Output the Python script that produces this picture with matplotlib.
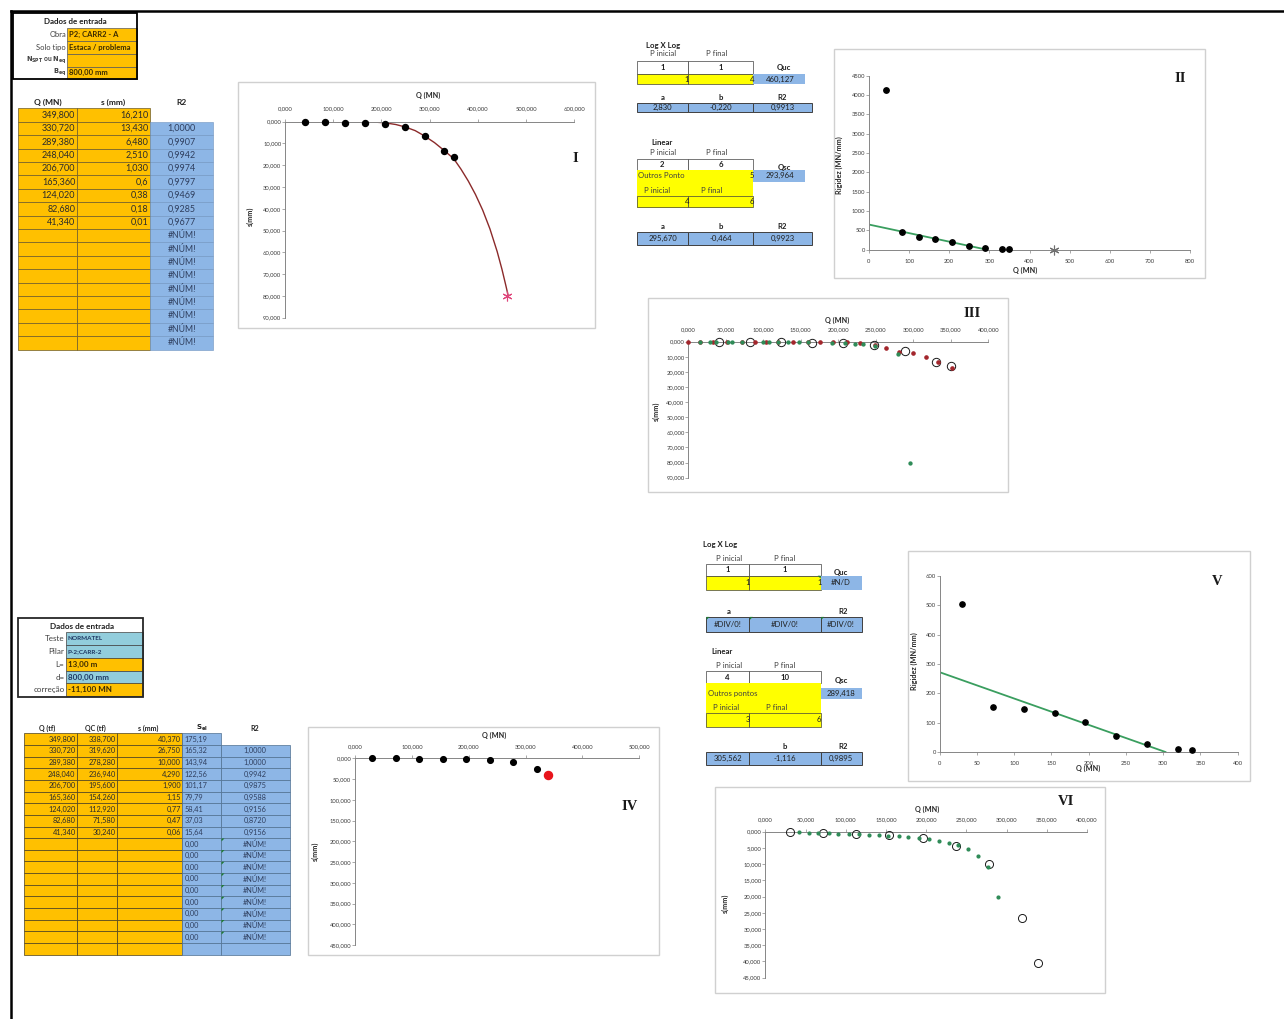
import matplotlib
matplotlib.use("Agg")
import matplotlib.pyplot as plt
from matplotlib.patches import Rectangle, Polygon
from matplotlib.ticker import FuncFormatter

W, H = 1284, 1019
plt.rcParams['font.family'] = ['Lato', 'DejaVu Sans']
plt.rcParams['mathtext.fontset'] = 'dejavusans'

ORANGE = '#FFC000'
YELLOW = '#FFFF00'
BLUE = '#8DB6E6'
TEAL = '#92CDDC'
AXC = '#868686'
TXT = '#1F1F1F'
NUM = '#2A2A2A'

# ---------------- dados: tabela 1 (P2; CARR2 - A) ----------------
q1 = [349.800, 330.720, 289.380, 248.040, 206.700, 165.360, 124.020, 82.680, 41.340]
s1 = [16.210, 13.430, 6.480, 2.510, 1.030, 0.6, 0.38, 0.18, 0.01]
s1_txt = ['16,210', '13,430', '6,480', '2,510', '1,030', '0,6', '0,38', '0,18', '0,01']
r2_1 = ['', '1,0000', '0,9907', '0,9942', '0,9974', '0,9797', '0,9469', '0,9285', '0,9677']
n_err1 = 9
rig1 = [21.6, 24.6, 44.7, 98.8, 200.7, 275.6, 326.4, 459.3, 4134.0]

# curva ajustada (gráfico I)
curve1_q = [15, 100, 180, 207, 230, 249, 270, 289, 310, 330, 350, 365, 380, 395,
            410, 425, 440, 450, 458, 463]
curve1_s = [0, 0, 0.1, 0.5, 1.3, 2.4, 4.1, 6.5, 9.6, 13.2, 17.0, 21.8, 27.2, 33.4,
            40.6, 49.2, 59.6, 67.8, 75.2, 80.0]
quc1 = 460.127
s_ult1 = 80.0

# reta de rigidez (gráfico II)
fit2_q = [0, 293.964]
fit2_r = [650, 0]

# gráfico III: pontos das duas extrapolações
red3_q = [0, 16, 33, 51, 71, 89, 104, 120, 140, 159, 176, 193, 211, 229, 249, 263,
          281, 299, 317, 333, 351]
red3_s = [0, 0, 0, 0, 0, 0, 0, 0, 0, 0, 0.1, 0.3, 0.5, 0.9, 2.4, 4.0, 6.6, 7.7,
          9.9, 13.2, 17.2]
green3_q = [15, 29, 37, 53, 58, 71, 100, 107, 120, 133, 147, 160, 191, 209, 222,
            233, 249, 280, 295]
green3_s = [0, 0, 0, 0, 0, 0, 0, 0, 0, 0, 0, 0, 0.6, 1.0, 1.6, 1.8, 2.6, 8.4, 80.0]

# ---------------- dados: tabela 2 (NORMATEL, P-2;CARR-2) ----------------
q2 = [349.800, 330.720, 289.380, 248.040, 206.700, 165.360, 124.020, 82.680, 41.340]
qc2 = [338.700, 319.620, 278.280, 236.940, 195.600, 154.260, 112.920, 71.580, 30.240]
s2 = [40.37, 26.75, 10.0, 4.29, 1.9, 1.15, 0.77, 0.47, 0.06]
s2_txt = ['40,370', '26,750', '10,000', '4,290', '1,900', '1,15', '0,77', '0,47', '0,06']
sel2 = ['175,19', '165,32', '143,94', '122,56', '101,17', '79,79', '58,41', '37,03', '15,64']
r2_2 = ['', '1,0000', '1,0000', '0,9942', '0,9875', '0,9588', '0,9156', '0,8720', '0,9156']
n_err2 = 9
rig2 = [8.4, 11.9, 27.8, 55.2, 102.9, 134.1, 146.6, 152.3, 504.0]

fit5_q = [0, 303]
fit5_r = [272, 0]

green6_q = [41.5, 54, 66, 79, 91, 104, 116, 128.5, 141, 153, 166, 178, 191, 203,
            215.5, 228, 240, 252, 264.5, 277, 289]
green6_s = [0.2, 0.3, 0.4, 0.5, 0.6, 0.7, 0.8, 0.9, 1.0, 1.3, 1.4, 1.6, 1.9, 2.4,
            2.9, 3.4, 4.1, 5.4, 7.4, 10.8, 20.2]


def br(v, nd=3):
    return f"{v:.{nd}f}".replace('.', ',')


fig = plt.figure(figsize=(W / 100, H / 100), dpi=100)
bg = fig.add_axes([0, 0, 1, 1])
bg.set_xlim(0, W)
bg.set_ylim(H, 0)
bg.axis('off')


def box(x0, y0, x1, y1, fc='none', ec='#595959', lw=0.5, z=1):
    p = Rectangle((x0, y0), x1 - x0, y1 - y0, facecolor=fc, edgecolor=ec,
                  linewidth=lw, zorder=z)
    bg.add_patch(p)
    return p


def put(x, y, s, size=5.5, ha='center', bold=False, color=TXT, **kw):
    return bg.text(x, y, s, fontsize=size, ha=ha, va='center', color=color,
                   fontweight='bold' if bold else 'normal', zorder=5, **kw)


def flag(x, y, right=False):
    # indicador verde de erro do Excel
    d = 3
    pts = [(x, y), (x - d, y), (x, y + d)] if right else [(x, y), (x + d, y), (x, y + d)]
    bg.add_patch(Polygon(pts, closed=True, facecolor='#1E7B34', edgecolor='none', zorder=6))


# borda da página
bg.plot([10.5, 10.5], [11, H], color='black', lw=1.8, zorder=10)
bg.plot([10.5, W], [11, 11], color='black', lw=1.8, zorder=10)

# ---------------- Dados de entrada (topo) ----------------
box(13.3, 13.3, 137.3, 79.3, ec='black', lw=1.3, z=3)
put(75, 21, 'Dados de entrada', size=5.8, bold=True)
rows_y = [28.3, 41.3, 54.0, 66.5, 78.6]
lab_top = ['Obra', 'Solo tipo', r'$\mathbf{N_{SPT}}$ ou $\mathbf{N_{eq}}$', r'$\mathbf{B_{eq}}$']
val_top = ['P2; CARR2 - A', 'Estaca / problema', '', '800,00 mm']
for i in range(4):
    p = box(67.3, rows_y[i], 136.8, rows_y[i + 1], fc=ORANGE, ec='#595959', lw=0.5)
    put(66, (rows_y[i] + rows_y[i + 1]) / 2, lab_top[i], size=5.4 if i < 2 else 4.8,
        ha='right', bold=(i >= 2), color='#404040')
    t = put(69, (rows_y[i] + rows_y[i + 1]) / 2, val_top[i], size=5.5, ha='left',
            bold=True, color='#3B2A00')
    t.set_clip_path(p)

# ---------------- tabela 1 ----------------
cols1 = [18.3, 76.7, 150, 213.3]
top1, rh1 = 108.3, 13.4
for x, s in zip([47.5, 113.3, 181.7], ['Q (MN)', 's (mm)', 'R2']):
    put(x, 102, s, size=6.0, bold=True)
rows1 = len(q1) + n_err1
for r in range(rows1):
    y0, y1 = top1 + r * rh1, top1 + (r + 1) * rh1
    ym = (y0 + y1) / 2
    box(cols1[0], y0, cols1[1], y1, fc=ORANGE, ec='#6B5A2A')
    box(cols1[1], y0, cols1[2], y1, fc=ORANGE, ec='#6B5A2A')
    if r >= 1:
        box(cols1[2], y0, cols1[3], y1, fc=BLUE, ec='#6F93BF', lw=0.4)
    if r < len(q1):
        put(cols1[1] - 1.5, ym, br(q1[r]), size=6.5, ha='right', color=NUM)
        put(cols1[2] - 1.5, ym, s1_txt[r], size=6.5, ha='right', color=NUM)
        put((cols1[2] + cols1[3]) / 2, ym, r2_1[r], size=6.5, color='#2F3F5F')
    else:
        put((cols1[2] + cols1[3]) / 2, ym, '#NÚM!', size=6.2, color='#2F3F5F')

# ---------------- tabela Log x Log / Linear (topo direita) ----------------
FS = 5.6
c3 = [636.7, 688.3, 753.3, 811.7]
put(663, 45, 'Log X Log', size=FS, bold=True)
put(663, 53.3, 'P inicial', size=FS, color='#404040')
put(717, 53.3, 'P final', size=FS, color='#404040')
box(c3[0], 60.7, c3[1], 74, fc='white', ec='#404040')
box(c3[1], 60.7, c3[2], 74, fc='white', ec='#404040')
put((c3[0] + c3[1]) / 2, 67.3, '1', size=FS, bold=True)
put((c3[1] + c3[2]) / 2, 67.3, '1', size=FS, bold=True)
put(784, 67, 'Quc', size=FS, bold=True)
box(c3[0], 74, c3[1], 84.3, fc=YELLOW, ec='#404040')
box(c3[1], 74, c3[2], 84.3, fc=YELLOW, ec='#404040')
put(c3[1] - 1.5, 79.2, '1', size=FS)
put(c3[2] - 1.5, 79.2, '4', size=FS)
box(c3[2], 74, 805, 84.3, fc=BLUE, ec='none')
put(780, 79.2, br(quc1), size=FS)
for x, s in zip([663, 720.7, 781.7], ['a', 'b', 'R2']):
    put(x, 97, s, size=FS, bold=True)
for i, s in enumerate(['2,830', '-0,220', '0,9913']):
    box(c3[i], 102.7, c3[i + 1], 111.7, fc=BLUE, ec='#404040', lw=0.7)
    put((c3[i] + c3[i + 1]) / 2, 107.2, s, size=FS)
put(661.7, 142.3, 'Linear', size=FS, bold=True)
put(663, 152.3, 'P inicial', size=FS, color='#404040')
put(717, 152.3, 'P final', size=FS, color='#404040')
box(c3[0], 159, c3[1], 170, fc='white', ec='#404040')
box(c3[1], 159, c3[2], 170, fc='white', ec='#404040')
put((c3[0] + c3[1]) / 2, 164.5, '2', size=FS, bold=True)
put((c3[1] + c3[2]) / 2, 164.5, '6', size=FS, bold=True)
put(784, 167.5, 'Qsc', size=FS, bold=True)
box(c3[0], 170, c3[2], 208.3, fc=YELLOW, ec='none')
put(638.3, 175.7, 'Outros Ponto', size=FS, ha='left', color='#404040')
put(c3[2] - 1.5, 175.7, '5', size=FS)
box(c3[2], 170, 805, 181.7, fc=BLUE, ec='none')
put(780, 175.9, '293,964', size=FS)
put(656.7, 190, 'P inicial', size=FS, color='#404040')
put(711.7, 190, 'P final', size=FS, color='#404040')
box(c3[0], 196, c3[1], 206.7, fc=YELLOW, ec='#404040')
box(c3[1], 196, c3[2], 206.7, fc=YELLOW, ec='#404040')
put(c3[1] - 1.5, 201.3, '4', size=FS)
put(c3[2] - 1.5, 201.3, '6', size=FS)
for x, s in zip([663, 720.7, 781.7], ['a', 'b', 'R2']):
    put(x, 226.7, s, size=FS, bold=True)
for i, s in enumerate(['295,670', '-0,464', '0,9923']):
    box(c3[i], 231.7, c3[i + 1], 245, fc=BLUE, ec='#404040', lw=0.7)
    put((c3[i] + c3[i + 1]) / 2, 238.3, s, size=FS)

# ---------------- tabela Log x Log / Linear (baixo meio) ----------------
c4 = [706, 749.3, 820.7, 861.7]
put(720, 545, 'Log X Log', size=FS, bold=True)
put(729.3, 558.3, 'P inicial', size=FS, color='#404040')
put(785, 558.3, 'P final', size=FS, color='#404040')
box(c4[0], 564.3, c4[1], 575.7, fc='white', ec='#404040')
box(c4[1], 564.3, c4[2], 575.7, fc='white', ec='#404040')
put((c4[0] + c4[1]) / 2, 570, '1', size=FS, bold=True)
put((c4[1] + c4[2]) / 2, 570, '1', size=FS, bold=True)
put(841, 573, 'Quc', size=FS, bold=True)
box(c4[0], 575.7, c4[1], 590, fc=YELLOW, ec='#404040')
box(c4[1], 575.7, c4[2], 590, fc=YELLOW, ec='#404040')
flag(c4[2], 575.7, right=True)
put(c4[1] - 1.5, 582.8, '1', size=FS)
put(c4[2] - 1.5, 582.8, '1', size=FS)
box(c4[2], 575.7, c4[3], 590, fc=BLUE, ec='none')
put(841, 582.8, '#N/D', size=FS)
put(728.3, 611.7, 'a', size=FS, bold=True)
put(843.3, 611.7, 'R2', size=FS, bold=True)
for i in range(3):
    box(c4[i], 616.7, c4[i + 1], 631.7, fc=BLUE, ec='#404040', lw=0.7)
    flag(c4[i] + 0.5, 616.9)
    put((c4[i] + c4[i + 1]) / 2, 624.2, '#DIV/0!', size=FS)
put(721.7, 651.7, 'Linear', size=FS, bold=True)
put(729.3, 665, 'P inicial', size=FS, color='#404040')
put(785, 665, 'P final', size=FS, color='#404040')
box(c4[0], 671, c4[1], 683.3, fc='white', ec='#404040')
box(c4[1], 671, c4[2], 683.3, fc='white', ec='#404040')
put((c4[0] + c4[1]) / 2, 677.2, '4', size=FS, bold=True)
put((c4[1] + c4[2]) / 2, 677.2, '10', size=FS, bold=True)
put(841, 680, 'Qsc', size=FS, bold=True)
box(c4[0], 683.3, c4[2], 726.7, fc=YELLOW, ec='none')
put(708.3, 693.3, 'Outros pontos', size=FS, ha='left', color='#404040')
box(c4[2], 687.7, c4[3], 699, fc=BLUE, ec='none')
put(841, 693.3, '289,418', size=FS)
put(726, 707.3, 'P inicial', size=FS, color='#404040')
put(776.7, 707.3, 'P final', size=FS, color='#404040')
box(c4[0], 713.3, c4[1], 726.7, fc=YELLOW, ec='#404040')
box(c4[1], 713.3, c4[2], 726.7, fc=YELLOW, ec='#404040')
put(c4[1] - 1.5, 720, '3', size=FS)
put(c4[2] - 1.5, 720, '6', size=FS)
put(785, 746.7, 'b', size=FS, bold=True)
put(843.3, 746.7, 'R2', size=FS, bold=True)
for i, s in enumerate(['305,562', '-1,116', '0,9895']):
    box(c4[i], 751.7, c4[i + 1], 765, fc=BLUE, ec='#404040', lw=0.7)
    put((c4[i] + c4[i + 1]) / 2, 758.3, s, size=FS)

# ---------------- Dados de entrada (baixo) ----------------
box(18.3, 618.3, 143.3, 696.7, ec='#262626', lw=1.3, z=3)
put(81.7, 626.5, 'Dados de entrada', size=5.9, bold=True)
ry = [632.3, 645, 657.7, 671, 683.3, 696]
lab_bot = ['Teste', 'Pilar', 'L=', 'd=', 'correção']
val_bot = ['NORMATEL', 'P-2;CARR-2', '13,00 m', '800,00 mm', '-11,100 MN']
fc_bot = [TEAL, TEAL, ORANGE, TEAL, ORANGE]
col_bot = ['#1F3864', '#1F3864', '#3B2A00', '#1F3864', '#3B2A00']
sz_bot = [4.6, 4.6, 5.8, 5.8, 5.8]
for i in range(5):
    box(65.7, ry[i], 142.8, ry[i + 1], fc=fc_bot[i], ec='#404040', lw=0.5)
    ym = (ry[i] + ry[i + 1]) / 2
    put(64.5, ym, lab_bot[i], size=5.8, ha='right', color='#404040')
    put(68, ym, val_bot[i], size=sz_bot[i], ha='left', bold=True, color=col_bot[i])

# ---------------- tabela 2 ----------------
cols2 = [24.3, 76.7, 116.7, 182, 221, 289.7]
top2, rh2 = 733.3, 11.65
for x, s in zip([46.7, 95, 148.3, 201.7, 255],
                ['Q (tf)', 'QC (tf)', 's (mm)', r'$\mathbf{S_{el}}$', 'R2']):
    put(x, 728.3, s, size=5.0, bold=True)
rows2 = len(q2) + n_err2 + 1
FT = 5.3
for r in range(rows2):
    y0, y1 = top2 + r * rh2, top2 + (r + 1) * rh2
    ym = (y0 + y1) / 2
    for c in range(3):
        box(cols2[c], y0, cols2[c + 1], y1, fc=ORANGE, ec='#4A3F20')
    box(cols2[3], y0, cols2[4], y1, fc=BLUE, ec='#4F6F8F', lw=0.5)
    if r >= 1:
        box(cols2[4], y0, cols2[5], y1, fc=BLUE, ec='#4F6F8F', lw=0.5)
    if r < len(q2):
        put(cols2[1] - 1.2, ym, br(q2[r]), size=FT, ha='right', color=NUM)
        put(cols2[2] - 1.2, ym, br(qc2[r]), size=FT, ha='right', color=NUM)
        put(cols2[3] - 1.2, ym, s2_txt[r], size=FT, ha='right', color=NUM)
        put(cols2[3] + 2.5, ym, sel2[r], size=FT, ha='left', color='#2F3F5F')
        put((cols2[4] + cols2[5]) / 2, ym, r2_2[r], size=FT, color='#2F3F5F')
    elif r < len(q2) + n_err2:
        put(cols2[3] + 2.5, ym, '0,00', size=FT, ha='left', color='#2F3F5F')
        put((cols2[4] + cols2[5]) / 2, ym, '#NÚM!', size=FT, color='#2F3F5F')
        flag(cols2[4] + 0.5, y0 + 0.3)


# ---------------- gráficos ----------------
def frame(x0, y0, x1, y1):
    box(x0, y0, x1, y1, fc='white', ec='#D0D0D0', lw=1.0, z=0.5)


def chart(x0, x1, ytop, ybot):
    ax = fig.add_axes([x0 / W, 1 - ybot / H, (x1 - x0) / W, (ybot - ytop) / H])
    ax.patch.set_visible(False)
    return ax


def style(ax, inverted, xt, yt, xfmt, yfmt, xpad):
    for sp in ax.spines.values():
        sp.set_visible(False)
        sp.set_color(AXC)
        sp.set_linewidth(0.7)
    if inverted:
        ax.spines['top'].set_visible(True)
        ax.xaxis.set_ticks_position('top')
    else:
        ax.spines['bottom'].set_visible(True)
    ax.spines['left'].set_visible(True)
    ax.set_xticks(xt)
    ax.set_yticks(yt)
    ax.xaxis.set_major_formatter(FuncFormatter(xfmt))
    ax.yaxis.set_major_formatter(FuncFormatter(yfmt))
    ax.tick_params(axis='both', labelsize=4.2, length=2, width=0.5,
                   color=AXC, labelcolor='#3A3A3A')
    ax.tick_params(axis='x', pad=xpad)
    ax.tick_params(axis='y', pad=0.6)


f3 = lambda v, p: br(v)
f0 = lambda v, p: f"{v:.0f}"

def ax_title(x, y, s, rot=0):
    put(x, y, s, size=5.2, bold=True, color='#262626', rotation=rot)


def roman(x, y, s):
    bg.text(x, y, s, fontsize=10.5, ha='center', va='center', fontweight='bold',
            family=['Liberation Serif', 'DejaVu Serif'], color='#1A1A1A', zorder=5)


# Gráfico I
frame(237.7, 81.7, 595, 327.7)
ax1 = chart(285, 574.3, 121.7, 317.7)
ax1.set_xlim(0, 600)
ax1.set_ylim(90, 0)
style(ax1, True, range(0, 601, 100), range(0, 91, 10), f3, f3, 5.3)
ax1.plot(curve1_q, curve1_s, color='#8B2A2A', lw=1.0, zorder=2)
ax1.plot(q1, s1, 'o', color='black', ms=4.3, clip_on=False, zorder=3)
ax1.plot([quc1], [s_ult1], marker=(6, 2, 0), color='#E0457B', ms=7, mew=0.8,
         ls='none', zorder=4)
ax_title(427.7, 95, 'Q (MN)')
ax_title(250, 216.7, 's(mm)', 90)
roman(575, 158, 'I')

# Gráfico II
frame(834, 49, 1205, 278)
ax2 = chart(869, 1190, 75.7, 249.7)
ax2.set_xlim(0, 800)
ax2.set_ylim(0, 4500)
style(ax2, False, range(0, 801, 100), range(0, 4501, 500), f0, f0, 5.0)
ax2.plot(fit2_q, fit2_r, color='#3A9E5F', lw=1.3, zorder=2)
ax2.plot(q1, rig1, 'o', color='black', ms=3.9, clip_on=False, zorder=3)
ax2.plot([quc1], [0], marker=(6, 2, 0), color='#6F6F6F', ms=7, mew=0.8,
         ls='none', clip_on=False, zorder=4)
ax_title(1025, 270, 'Q (MN)')
ax_title(839.3, 165, 'Rigidez (MN/mm)', 90)
roman(1180, 78.3, 'II')

# Gráfico III
frame(648.3, 297.7, 1008.3, 491.7)
ax3 = chart(688.3, 988.3, 341.7, 477.7)
ax3.set_xlim(0, 400)
ax3.set_ylim(90, 0)
style(ax3, True, range(0, 401, 50), range(0, 91, 10), f3, f3, 4.9)
ax3.plot(q1, s1, 'o', mfc='none', mec='#1A1A1A', mew=0.7, ms=6, clip_on=False, zorder=3)
ax3.plot(red3_q, red3_s, 'o', color='#A3262C', ms=2.3, clip_on=False, zorder=4)
ax3.plot(green3_q, green3_s, 'o', color='#2E8B57', ms=2.1, clip_on=False, zorder=4)
ax_title(836.7, 320, 'Q (MN)')
ax_title(656.7, 411.7, 's(mm)', 90)
roman(971.7, 313.3, 'III')

# Gráfico IV
frame(307.7, 726.7, 659, 955)
ax4 = chart(355, 639.3, 758.3, 945)
ax4.set_xlim(0, 500)
ax4.set_ylim(450, 0)
style(ax4, True, range(0, 501, 100), range(0, 451, 50), f3, f3, 4.5)
ax4.plot(qc2[1:], s2[1:], 'o', color='black', ms=4.1, clip_on=False, zorder=3)
ax4.plot(qc2[:1], s2[:1], 'o', color='#E8141B', ms=5.8, clip_on=False, zorder=3)
ax_title(494.3, 735, 'Q (MN)')
ax_title(315, 851.7, 's(mm)', 90)
roman(630, 806.7, 'IV')

# Gráfico V
frame(908.3, 550.7, 1250, 781.3)
ax5 = chart(939.7, 1237.7, 576, 752)
ax5.set_xlim(0, 400)
ax5.set_ylim(0, 600)
style(ax5, False, range(0, 401, 50), range(0, 601, 100), f0, f0, 4.6)
ax5.plot(fit5_q, fit5_r, color='#3A9E5F', lw=1.3, zorder=2)
ax5.plot(qc2, rig2, 'o', color='black', ms=3.8, clip_on=False, zorder=3)
ax_title(1087.7, 768, 'Q (MN)')
ax_title(914.3, 661.3, 'Rigidez (MN/mm)', 90)
roman(1216.7, 581.3, 'V')

# Gráfico VI
frame(714.7, 786.7, 1105.3, 993.3)
ax6 = chart(765.3, 1087, 831.7, 977.7)
ax6.set_xlim(0, 400)
ax6.set_ylim(45, 0)
style(ax6, True, range(0, 401, 50), range(0, 46, 5), f3, f3, 4.9)
ax6.plot(qc2, s2, 'o', mfc='none', mec='#1A1A1A', mew=0.7, ms=5.8, clip_on=False, zorder=3)
ax6.plot(green6_q, green6_s, 'o', color='#2E8B57', ms=2.0, clip_on=False, zorder=4)
ax_title(927, 809, 'Q (MN)')
ax_title(725.3, 903.3, 's(mm)', 90)
roman(1066, 801.7, 'VI')

fig.savefig('out.png', dpi=100)
